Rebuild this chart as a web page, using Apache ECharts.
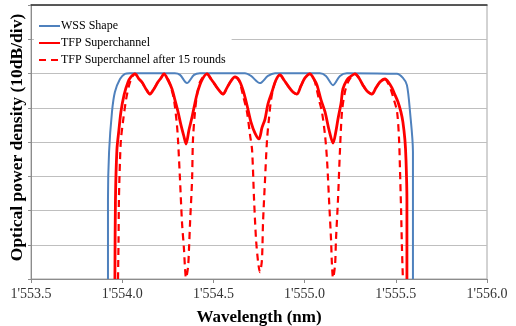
<!DOCTYPE html>
<html>
<head>
<meta charset="utf-8">
<script src="https://cdn.jsdelivr.net/npm/echarts@6/dist/echarts.min.js"></script>
<style>
  html, body { margin: 0; padding: 0; background: #fff; }
  #chart { width: 516px; height: 326px; }
</style>
</head>
<body>
<div id="chart"></div>
<script>
// wavelength (nm), relative power (dB, 10 dB per division)
const wssShape = [
  [1553.922, 0], [1553.922, 23.1], [1553.928, 37.1], [1553.944, 48.8], [1553.960, 54.6],
  [1553.988, 58.4], [1554.015, 59.9], [1554.042, 60.1], [1554.289, 60.1], [1554.317, 59.6],
  [1554.355, 57.2], [1554.394, 59.6], [1554.426, 60.1], [1554.673, 60.1], [1554.706, 59.3],
  [1554.755, 57.2], [1554.799, 59.3], [1554.838, 60.1], [1555.084, 60.1], [1555.117, 59.3],
  [1555.156, 56.6], [1555.194, 59.3], [1555.232, 60.1], [1555.506, 59.9], [1555.539, 58.7],
  [1555.561, 56.6], [1555.578, 48.8], [1555.594, 37.1], [1555.594, 0]
]

const tfpSuper = [
  [1553.960, 0], [1553.963, 23.1], [1553.971, 37.7], [1553.982, 43.5], [1553.993, 48.8],
  [1554.010, 53.7], [1554.032, 57.5], [1554.048, 59.0], [1554.070, 59.9], [1554.092, 58.4],
  [1554.108, 57.5], [1554.130, 55.5], [1554.152, 54.0], [1554.174, 55.5], [1554.196, 57.5],
  [1554.213, 58.7], [1554.229, 59.9], [1554.251, 58.1], [1554.273, 55.5], [1554.289, 52.3],
  [1554.306, 48.8], [1554.322, 45.0], [1554.339, 41.5], [1554.350, 39.4], [1554.366, 43.5],
  [1554.383, 47.3], [1554.399, 51.4], [1554.415, 54.9], [1554.437, 58.1], [1554.465, 59.9],
  [1554.487, 58.4], [1554.503, 57.2], [1554.525, 55.5], [1554.553, 54.0], [1554.574, 55.8],
  [1554.596, 57.8], [1554.618, 59.0], [1554.640, 58.1], [1554.662, 55.2], [1554.684, 50.8],
  [1554.706, 45.8], [1554.728, 42.6], [1554.750, 40.9], [1554.766, 44.1], [1554.783, 46.7],
  [1554.799, 51.1], [1554.821, 54.6], [1554.843, 58.1], [1554.865, 59.6], [1554.887, 58.1],
  [1554.909, 56.4], [1554.936, 54.6], [1554.958, 54.0], [1554.980, 56.4], [1555.002, 58.7],
  [1555.029, 59.9], [1555.051, 58.4], [1555.068, 56.6], [1555.090, 52.3], [1555.112, 48.8],
  [1555.134, 43.5], [1555.156, 39.7], [1555.172, 43.2], [1555.183, 46.7], [1555.200, 51.4],
  [1555.210, 55.5], [1555.232, 58.1], [1555.249, 59.0], [1555.276, 59.9], [1555.298, 58.7],
  [1555.320, 56.6], [1555.342, 54.9], [1555.369, 54.0], [1555.391, 55.8], [1555.413, 57.5],
  [1555.441, 58.4], [1555.463, 57.2], [1555.479, 55.8], [1555.496, 53.7], [1555.512, 51.7],
  [1555.528, 48.8], [1555.539, 45.8], [1555.550, 40.6], [1555.556, 34.7], [1555.561, 23.1],
  [1555.561, 0]
]

const tfpAfter15 = [
  [1553.977, 0], [1553.980, 11.4], [1553.982, 23.1], [1553.988, 34.7], [1553.993, 40.6],
  [1554.004, 45.8], [1554.021, 52.3], [1554.037, 56.4], [1554.054, 59.0], [1554.070, 59.9],
  [1554.092, 58.4], [1554.108, 57.5], [1554.130, 55.5], [1554.152, 54.0], [1554.174, 55.5],
  [1554.196, 57.5], [1554.213, 58.7], [1554.229, 59.9], [1554.251, 58.4], [1554.268, 55.8],
  [1554.284, 52.3], [1554.300, 45.0], [1554.306, 40.6], [1554.317, 28.9], [1554.328, 16.4],
  [1554.339, 8.5], [1554.344, 3.5], [1554.350, 0.3], [1554.361, 3.5], [1554.366, 8.5],
  [1554.372, 16.4], [1554.383, 28.9], [1554.388, 40.6], [1554.399, 48.8], [1554.410, 53.7],
  [1554.426, 57.5], [1554.448, 59.3], [1554.465, 59.9], [1554.487, 58.4], [1554.503, 57.2],
  [1554.525, 55.5], [1554.553, 54.0], [1554.574, 55.8], [1554.596, 57.8], [1554.618, 59.0],
  [1554.634, 58.4], [1554.646, 57.2], [1554.662, 53.7], [1554.684, 48.8], [1554.701, 42.0],
  [1554.712, 37.7], [1554.723, 23.1], [1554.734, 11.4], [1554.745, 5.0], [1554.755, 2.0],
  [1554.766, 5.5], [1554.772, 16.4], [1554.783, 28.9], [1554.794, 40.6], [1554.805, 47.0],
  [1554.816, 52.3], [1554.832, 56.4], [1554.849, 58.7], [1554.865, 59.6], [1554.887, 58.1],
  [1554.909, 56.4], [1554.936, 54.6], [1554.958, 54.0], [1554.980, 56.4], [1555.002, 58.7],
  [1555.029, 59.9], [1555.051, 58.4], [1555.062, 56.4], [1555.079, 52.3], [1555.095, 48.8],
  [1555.112, 42.0], [1555.123, 34.7], [1555.134, 23.1], [1555.145, 11.4], [1555.150, 4.1],
  [1555.156, 0.3], [1555.167, 4.1], [1555.172, 11.4], [1555.183, 23.1], [1555.194, 37.7],
  [1555.205, 48.8], [1555.221, 54.6], [1555.238, 57.5], [1555.260, 59.3], [1555.276, 59.9],
  [1555.298, 58.7], [1555.320, 56.6], [1555.342, 54.9], [1555.369, 54.0], [1555.391, 55.8],
  [1555.413, 57.5], [1555.441, 58.4], [1555.457, 57.2], [1555.468, 56.1], [1555.490, 52.3],
  [1555.507, 48.8], [1555.518, 40.6], [1555.523, 31.8], [1555.529, 20.1], [1555.534, 8.5],
  [1555.539, 0]
]

const seriesNames = ["WSS Shape", "TFP Superchannel", "TFP Superchannel after 15 rounds"]

const serif = "'Liberation Serif', 'DejaVu Serif', serif"

// 1553.5 -> 1'553.5
const fmtWavelength = (v) => {
  const s = v.toFixed(1)
  const [int, dec] = s.split(".")
  return int.replace(/\B(?=(\d{3})+(?!\d))/g, "'") + "." + dec
}

const chart = echarts.init(document.getElementById("chart"), null, { renderer: "canvas" })

chart.setOption({
  animation: false,
  backgroundColor: "#fff",
  grid: {
    left: 31, right: 29, top: 5, bottom: 47,
    outerBoundsMode: "none",
    show: true, borderColor: "#A6A6A6", borderWidth: 1,
  },
  legend: {
    orient: "vertical",
    left: 34,
    top: 18,
    itemWidth: 21,
    itemHeight: 14,
    itemGap: 5,
    padding: [2, 6, 2, 4],
    backgroundColor: "#fff",
    z: 1,
    itemStyle: { opacity: 0 },
    textStyle: { fontFamily: serif, fontSize: 12, color: "#000", padding: [0, 0, 0, -4] },
    data: seriesNames,
  },
  xAxis: [
    {
      type: "value",
      min: 1553.5,
      max: 1556.0,
      interval: 0.5,
      name: "Wavelength (nm)",
      nameLocation: "middle",
      nameGap: 30,
      nameTextStyle: { fontFamily: serif, fontSize: 17, fontWeight: "bold", color: "#000" },
      axisLine: { show: true, lineStyle: { color: "#8C8C8C", width: 1 } },
      axisTick: { show: true, length: 4, lineStyle: { color: "#8C8C8C" } },
      axisLabel: {
        fontFamily: serif, fontSize: 14, color: "#333", margin: 8,
        formatter: fmtWavelength,
      },
      splitLine: { show: false },
    },
    {
      type: "value",
      position: "top",
      min: 1553.5,
      max: 1556.0,
      axisLine: { show: true, lineStyle: { color: "#333", width: 1.5 } },
      axisTick: { show: false },
      axisLabel: { show: false },
      splitLine: { show: false },
    },
  ],
  yAxis: {
    type: "value",
    min: 0,
    max: 80,
    interval: 10,
    name: "Optical power density (10dB/div)",
    nameLocation: "middle",
    nameGap: 5,
    nameTextStyle: {
      fontFamily: serif, fontSize: 17.5, fontWeight: "bold", color: "#000",
      padding: [0, 0, 0, 9],
    },
    axisLine: { show: true, lineStyle: { color: "#8C8C8C", width: 1 } },
    axisTick: { show: true, length: 3, lineStyle: { color: "#8C8C8C" } },
    axisLabel: { show: false },
    splitLine: { show: true, lineStyle: { color: "#BFBFBF", width: 1 } },
  },
  series: [
    {
      name: seriesNames[0],
      type: "line",
      data: wssShape,
      symbol: "none",
      smooth: 0.3,
      z: 2,
      lineStyle: { color: "#4F81BD", width: 2 },
      itemStyle: { color: "#4F81BD" },
    },
    {
      name: seriesNames[1],
      type: "line",
      data: tfpSuper,
      symbol: "none",
      smooth: 0.3,
      z: 4,
      lineStyle: { color: "#FF0000", width: 2.8 },
      itemStyle: { color: "#FF0000" },
    },
    {
      name: seriesNames[2],
      type: "line",
      data: tfpAfter15,
      symbol: "none",
      smooth: 0.3,
      z: 3,
      lineStyle: { color: "#FF0000", width: 2.2, type: [7, 5] },
      itemStyle: { color: "#FF0000" },
    },
  ],
})
</script>
</body>
</html>
